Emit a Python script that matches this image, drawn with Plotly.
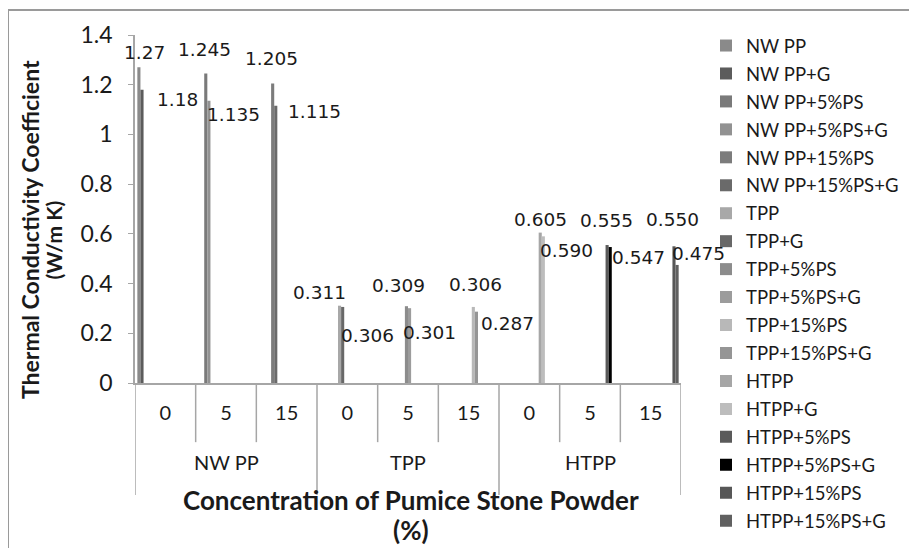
import plotly.graph_objects as go

# ---- data ----
groups = ["NW PP", "TPP", "HTPP"]
concentrations = ["0", "5", "15"]
series_names = [
    "NW PP", "NW PP+G", "NW PP+5%PS", "NW PP+5%PS+G", "NW PP+15%PS", "NW PP+15%PS+G",
    "TPP", "TPP+G", "TPP+5%PS", "TPP+5%PS+G", "TPP+15%PS", "TPP+15%PS+G",
    "HTPP", "HTPP+G", "HTPP+5%PS", "HTPP+5%PS+G", "HTPP+15%PS", "HTPP+15%PS+G",
]
series_values = [1.27, 1.18, 1.245, 1.135, 1.205, 1.115,
                 0.311, 0.306, 0.309, 0.301, 0.306, 0.287,
                 0.605, 0.590, 0.555, 0.547, 0.550, 0.475]
value_labels = ["1.27", "1.18", "1.245", "1.135", "1.205", "1.115",
                "0.311", "0.306", "0.309", "0.301", "0.306", "0.287",
                "0.605", "0.590", "0.555", "0.547", "0.550", "0.475"]
series_group = [0, 0, 0, 0, 0, 0, 1, 1, 1, 1, 1, 1, 2, 2, 2, 2, 2, 2]
series_conc = [0, 0, 1, 1, 2, 2, 0, 0, 1, 1, 2, 2, 0, 0, 1, 1, 2, 2]
y_ticks = [0, 0.2, 0.4, 0.6, 0.8, 1.0, 1.2, 1.4]

# category keys (one per group/concentration pair) and their tick texts
cat_keys = [f"{g}|{c}" for g in groups for c in concentrations]
cat_text = [c for g in groups for c in concentrations]

# ---- style ----
colors = ["#8a8a8a", "#5c5c5c", "#7a7a7a", "#929292", "#7c7c7c", "#6a6a6a",
          "#a8a8a8", "#686868", "#8c8c8c", "#9c9c9c", "#b8b8b8", "#959595",
          "#a6a6a6", "#bdbdbd", "#5a5a5a", "#000000", "#575757", "#606060"]
# data-label offsets in pixels relative to bar center / bar top (manual placement in original)
label_dx = [6, 35, -1, 25, -1, 39, -20, 25, -8, 20, 2, 31, 0, 23, -1, 28, -2, 21]
label_dy = [-15, 10, -24, 14, -25, 6, -13, 29, -21, 24, -22, 12, -13, 14, -25, 10, -27, -11]

BARGAP = 0.077
NS = len(series_names)
NC = len(concentrations)
FONT = "Lato"
TXT = "#1a1a1a"
GRID = "#a6a6a6"
LEG_FONT = 18.5
LEG_GAP = 0.9
PER_LEGEND = 9
W, H = 901, 540  # page adds an 8px body margin around the figure

fig = go.Figure()
for i, name in enumerate(series_names):
    cat = series_group[i] * NC + series_conc[i]
    fig.add_trace(go.Bar(
        x=[cat_keys[cat]],
        y=[series_values[i]],
        name=name,
        legendgroup=name,
        legend="legend" if i < PER_LEGEND else "legend2",
        marker=dict(color=colors[i], line=dict(width=0)),
        hovertemplate=f"{groups[series_group[i]]}, {concentrations[series_conc[i]]}%<br>{name}: %{{y}}<extra></extra>",
    ))

annotations = []
for i in range(NS):
    cat = series_group[i] * NC + series_conc[i]
    xpos = cat - 0.5 + BARGAP / 2 + (i + 0.5) * (1 - BARGAP) / NS
    annotations.append(dict(
        x=xpos, y=series_values[i], xref="x", yref="y",
        text=value_labels[i], showarrow=False,
        xanchor="center", yanchor="middle",
        xshift=label_dx[i], yshift=-label_dy[i],
        font=dict(family="DejaVu Sans", size=18.5, color=TXT),
    ))

# group labels under the concentration labels
for gi, g in enumerate(groups):
    annotations.append(dict(
        x=gi * NC + (NC - 1) / 2, y=-0.227, xref="x", yref="paper",
        text=g, showarrow=False, xanchor="center", yanchor="middle",
        font=dict(family=FONT, size=20, color=TXT),
    ))

annotations.append(dict(
    x=0.505, y=-0.336, xref="paper", yref="paper",
    text="Concentration of Pumice Stone Powder", showarrow=False,
    xanchor="center", yanchor="middle",
    font=dict(family=FONT, size=26, color=TXT, weight="bold"),
))
annotations.append(dict(
    x=0.505, y=-0.422, xref="paper", yref="paper",
    text="(%)", showarrow=False,
    xanchor="center", yanchor="middle",
    font=dict(family=FONT, size=26, color=TXT, weight="bold"),
))
annotations.append(dict(
    x=-0.192, y=0.44, xref="paper", yref="paper",
    text="Thermal Conductivity Coefficient", showarrow=False,
    textangle=-90, xanchor="center", yanchor="middle",
    font=dict(family=FONT, size=23, color=TXT, weight="bold"),
))
annotations.append(dict(
    x=-0.150, y=0.41, xref="paper", yref="paper",
    text="(W/m K)", showarrow=False,
    textangle=-90, xanchor="center", yanchor="middle",
    font=dict(family=FONT, size=21, color=TXT, weight="bold"),
))

# category dividers (short between concentrations, long between groups)
shapes = []
for k in range(len(cat_keys) + 1):
    bx = k - 0.5
    is_group_edge = (k % NC == 0)
    shapes.append(dict(
        type="line", xref="x", yref="paper", x0=bx, x1=bx,
        y0=0, y1=-0.322 if is_group_edge else -0.17,
        line=dict(color=GRID, width=1.5),
    ))
# outer chart frame
shapes.append(dict(type="rect", xref="paper", yref="paper",
                   x0=-0.2326, x1=1.47, y0=-0.6, y1=1.072,
                   line=dict(color="#9a9a9a", width=2), fillcolor="rgba(0,0,0,0)", layer="below"))

leg_common = dict(
    xref="container", yref="container", xanchor="left", yanchor="top",
    font=dict(family=FONT, size=LEG_FONT, color=TXT),
    tracegroupgap=LEG_GAP, bgcolor="rgba(0,0,0,0)",
)
item_h = LEG_FONT * 1.3 + 3 + LEG_GAP
leg_top = 1 - 19 / H
fig.update_layout(
    width=W, height=H,
    margin=dict(l=127, r=228, t=27, b=165),
    paper_bgcolor="white", plot_bgcolor="white",
    barmode="group", bargap=BARGAP, bargroupgap=0,
    showlegend=True,
    legend=dict(x=698 / W, y=leg_top, **leg_common),
    legend2=dict(x=698 / W, y=leg_top - PER_LEGEND * item_h / H, **leg_common),
    annotations=annotations,
    shapes=shapes,
)

fig.update_yaxes(
    range=[0, 1.4], tickvals=y_ticks, ticktext=[f"{v:g}" for v in y_ticks],
    showgrid=False, zeroline=False, automargin=False,
    showline=True, linecolor=GRID, linewidth=1.5,
    ticks="outside", ticklen=5, tickcolor=GRID, ticklabelstandoff=11,
    tickfont=dict(family=FONT, size=23, color=TXT),
)
fig.update_xaxes(
    type="category", categoryorder="array", categoryarray=cat_keys,
    tickvals=cat_keys, ticktext=cat_text,
    range=[-0.5, len(cat_keys) - 0.5],
    showgrid=False, zeroline=False, automargin=False,
    showline=True, linecolor=GRID, linewidth=1.5,
    ticks="", ticklabelstandoff=11,
    tickfont=dict(family=FONT, size=20, color=TXT),
)

fig.write_html("out.html")
